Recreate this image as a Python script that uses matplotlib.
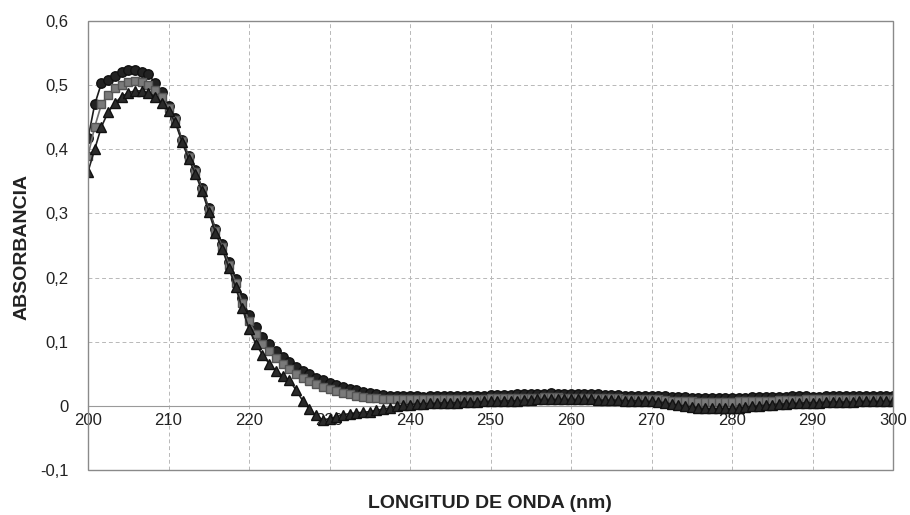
import numpy as np
import matplotlib
matplotlib.use("Agg")
import matplotlib.pyplot as plt
from matplotlib.patches import Rectangle

plt.rcParams['font.family'] = ['Liberation Sans', 'DejaVu Sans']

# Wavelength (nm): 121 readings from 200 to 300 nm
wavelength = np.linspace(200, 300, 121)

serie_circulos = [
    0.417, 0.470, 0.503, 0.508, 0.514, 0.520, 0.524, 0.523, 0.521, 0.517,
    0.503, 0.490, 0.468, 0.448, 0.415, 0.390, 0.368, 0.340, 0.308, 0.276,
    0.252, 0.225, 0.197, 0.168, 0.141, 0.123, 0.108, 0.096, 0.085, 0.076,
    0.068, 0.061, 0.055, 0.050, 0.044, 0.040, 0.036, 0.032, 0.029, 0.027,
    0.025, 0.022, 0.020, 0.018, 0.017, 0.016, 0.015, 0.015,
    0.015, 0.015, 0.014, 0.015, 0.015, 0.015, 0.016,
    0.016, 0.016, 0.015, 0.016, 0.016, 0.017, 0.017,
    0.017, 0.017, 0.018, 0.018, 0.018, 0.019, 0.019,
    0.020, 0.019, 0.019, 0.018, 0.018, 0.018, 0.018,
    0.018, 0.017, 0.017, 0.017, 0.016, 0.016, 0.016,
    0.016, 0.015, 0.015, 0.015, 0.014, 0.014, 0.014,
    0.013, 0.013, 0.013, 0.013, 0.013, 0.013, 0.013,
    0.013, 0.013, 0.014, 0.014, 0.014, 0.014, 0.014,
    0.014, 0.015, 0.015, 0.015, 0.014, 0.014, 0.015,
    0.015, 0.015, 0.015, 0.015, 0.015, 0.015, 0.015,
    0.015, 0.015, 0.015,
]

serie_cuadrados = [
    0.390, 0.435, 0.470, 0.485, 0.495, 0.500, 0.505, 0.506, 0.505, 0.500,
    0.493, 0.482, 0.465, 0.445, 0.413, 0.388, 0.365, 0.337, 0.305, 0.273,
    0.248, 0.220, 0.191, 0.160, 0.132, 0.112, 0.097, 0.085, 0.074, 0.065,
    0.057, 0.050, 0.044, 0.039, 0.034, 0.030, 0.026, 0.023, 0.020, 0.018,
    0.016, 0.014, 0.013, 0.012, 0.011, 0.010, 0.010, 0.010,
    0.010, 0.010, 0.010, 0.010, 0.010, 0.010, 0.010,
    0.011, 0.011, 0.011, 0.011, 0.011, 0.012, 0.012,
    0.012, 0.012, 0.013, 0.013, 0.013, 0.013, 0.014,
    0.014, 0.014, 0.013, 0.013, 0.013, 0.013, 0.013,
    0.012, 0.012, 0.012, 0.012, 0.011, 0.011, 0.011,
    0.010, 0.010, 0.010, 0.009, 0.008, 0.008, 0.007,
    0.007, 0.006, 0.006, 0.006, 0.006, 0.006, 0.006,
    0.007, 0.007, 0.007, 0.008, 0.008, 0.008, 0.009,
    0.009, 0.009, 0.009, 0.010, 0.010, 0.010, 0.010,
    0.010, 0.010, 0.010, 0.010, 0.010, 0.010, 0.010,
    0.010, 0.010, 0.010,
]

serie_triangulos = [
    0.365, 0.400, 0.435, 0.458, 0.472, 0.482, 0.488, 0.491, 0.491, 0.488,
    0.482, 0.472, 0.460, 0.442, 0.412, 0.385, 0.362, 0.335, 0.303, 0.270,
    0.245, 0.215, 0.185, 0.152, 0.120, 0.097, 0.080, 0.066, 0.055, 0.047,
    0.040, 0.025, 0.008, -0.005, -0.015, -0.022, -0.020, -0.017, -0.014, -0.012,
    -0.011, -0.010, -0.009, -0.007, -0.005, -0.003, -0.001, 0.001,
    0.002, 0.003, 0.003, 0.004, 0.004, 0.005, 0.005,
    0.005, 0.006, 0.006, 0.006, 0.007, 0.007, 0.007,
    0.008, 0.008, 0.008, 0.009, 0.009, 0.010, 0.010,
    0.010, 0.010, 0.010, 0.010, 0.010, 0.010, 0.010,
    0.009, 0.009, 0.009, 0.009, 0.008, 0.008, 0.008,
    0.007, 0.007, 0.006, 0.005, 0.003, 0.001, 0.000,
    -0.002, -0.003, -0.004, -0.004, -0.004, -0.004, -0.004,
    -0.003, -0.002, -0.001, 0.000, 0.001, 0.002, 0.003,
    0.003, 0.004, 0.004, 0.005, 0.005, 0.005, 0.006,
    0.006, 0.006, 0.006, 0.006, 0.007, 0.007, 0.007,
    0.007, 0.007, 0.007,
]

x_ticks = [200, 210, 220, 230, 240, 250, 260, 270, 280, 290, 300]
x_tick_labels = ["200", "210", "220", "230", "240", "250", "260", "270", "280", "290", "300"]
y_ticks = [-0.1, 0.0, 0.1, 0.2, 0.3, 0.4, 0.5, 0.6]
y_tick_labels = ["-0,1", "0", "0,1", "0,2", "0,3", "0,4", "0,5", "0,6"]

fig = plt.figure(figsize=(9.1, 5.15), dpi=100)
ax = fig.add_axes([88/910, 1-470/515, (893-88)/910, (470-21)/515])

ax.set_xlim(200, 300)
ax.set_ylim(-0.1, 0.6)

# grid
ax.set_xticks(x_ticks)
ax.set_yticks(y_ticks)
ax.grid(True, color='#b8b8b8', linestyle=(0, (4, 3)), linewidth=0.7)
ax.set_axisbelow(True)

ax.plot(wavelength, serie_circulos, '-o', color='#1c1c1c', lw=1.2,
        markersize=6.8, markerfacecolor='#222222', markeredgecolor='#111111', zorder=3)
ax.plot(wavelength, serie_cuadrados, '-s', color='#6e6e6e', lw=1.2,
        markersize=6.0, markerfacecolor='#7a7a7a', markeredgecolor='#555555', zorder=4)
ax.plot(wavelength, serie_triangulos, '-^', color='#222222', lw=1.2,
        markersize=7.2, markerfacecolor='#2a2a2a', markeredgecolor='#111111', zorder=5)

# x axis crossing at y = 0
ax.spines['bottom'].set_position(('data', 0))
ax.spines['bottom'].set_color('#9a9a9a')
ax.spines['bottom'].set_linewidth(0.8)
for s in ['top', 'right', 'left']:
    ax.spines[s].set_visible(False)
ax.add_patch(Rectangle((0, 0), 1, 1, transform=ax.transAxes, fill=False,
                       edgecolor='#8a8a8a', linewidth=1.0, clip_on=False, zorder=6))

ax.set_xticklabels(x_tick_labels)
ax.set_yticklabels(y_tick_labels)
ax.tick_params(axis='x', length=0, pad=5, labelsize=12, colors='#222222')
ax.tick_params(axis='y', length=0, pad=14, labelsize=12, colors='#222222')

fig.text(0.024, 1-247/515, "ABSORBANCIA", rotation=90, ha='center', va='center',
         fontsize=14, fontweight='bold', color='#222222')
fig.text(490/910, 1-504/515, "LONGITUD DE ONDA (nm)", ha='center', va='center',
         fontsize=14, fontweight='bold', color='#222222')

fig.savefig("out.png", dpi=100)
